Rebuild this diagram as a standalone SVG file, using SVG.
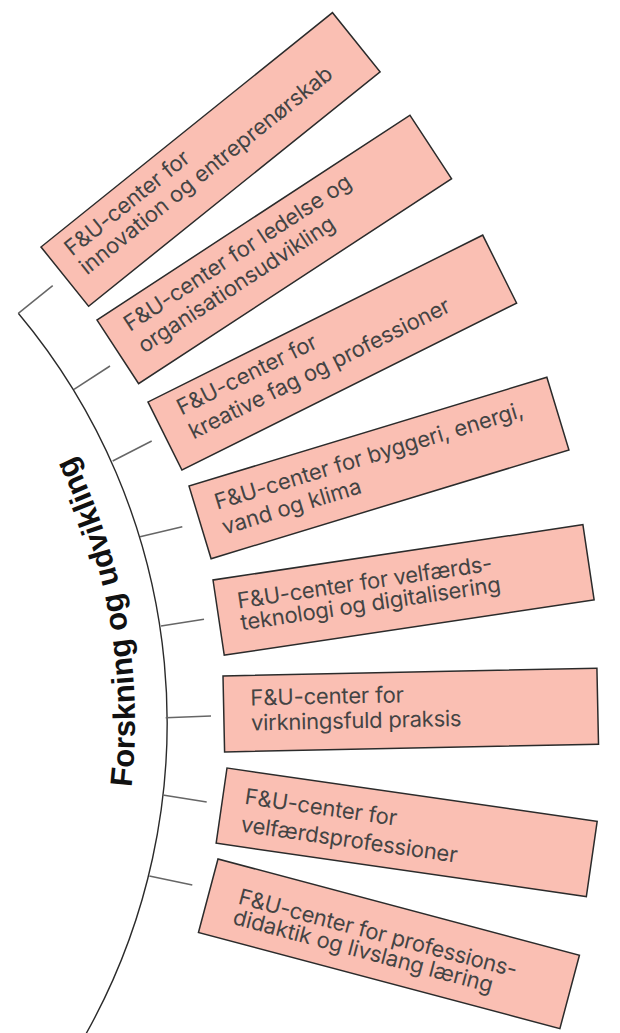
<svg xmlns="http://www.w3.org/2000/svg" width="620" height="1033" viewBox="0 0 620 1033">
<style>
.box{fill:#fabfb3;stroke:#2b2b2b;stroke-width:1.5}
.lbl{font-family:Inter,"Liberation Sans",sans-serif;font-size:22px;fill:#444}
.arc{fill:none;stroke:#2b2b2b;stroke-width:1.4}
.tick{fill:none;stroke:#666;stroke-width:1.5}
.title{font-family:"Liberation Sans",Arial,sans-serif;font-weight:bold;font-size:31px;fill:#111}
</style>
<defs>
<path id="titlePath" d="M 125.8 827.1 A 605 605 0 0 0 53.9 419.5"/>
</defs>
<g id="connectors">
<path class="arc" d="M 18.3 313.3 A 637.3 637.3 0 0 1 86.2 1033.5"/>
<line class="tick" x1="18.3" y1="313.3" x2="52.7" y2="285.7"/>
<line class="tick" x1="74" y1="389.3" x2="110" y2="366"/>
<line class="tick" x1="112.7" y1="461" x2="151.7" y2="441"/>
<line class="tick" x1="140" y1="536.7" x2="182.3" y2="526.7"/>
<line class="tick" x1="161" y1="626" x2="204" y2="619.3"/>
<line class="tick" x1="165.7" y1="717.7" x2="211" y2="716"/>
<line class="tick" x1="162.7" y1="795" x2="206.7" y2="802"/>
<line class="tick" x1="149.3" y1="876" x2="192.3" y2="885"/>
</g>
<g id="title">
<text class="title"><textPath href="#titlePath" startOffset="210.9" text-anchor="middle">Forskning og udvikling</textPath></text>
</g>
<g id="node1" transform="translate(41,247) rotate(-38.8)">
<rect class="box" width="374" height="76"/>
<text class="lbl" x="18" y="27" textLength="153.4" lengthAdjust="spacing">F&amp;U-center for</text>
<text class="lbl" x="18" y="51" textLength="317.4" lengthAdjust="spacing">innovation og entreprenørskab</text>
</g>
<g id="node2" transform="translate(97,320) rotate(-33.2)">
<rect class="box" width="374" height="76"/>
<text class="lbl" x="21" y="28" textLength="266.6" lengthAdjust="spacing">F&amp;U-center for ledelse og</text>
<text class="lbl" x="21" y="54" textLength="230.2" lengthAdjust="spacing">organisationsudvikling</text>
</g>
<g id="node3" transform="translate(148,402) rotate(-26.5)">
<rect class="box" width="374" height="76"/>
<text class="lbl" x="24" y="27" textLength="153.4" lengthAdjust="spacing">F&amp;U-center for</text>
<text class="lbl" x="24" y="54" textLength="288.7" lengthAdjust="spacing">kreative fag og professioner</text>
</g>
<g id="node4" transform="translate(189,486) rotate(-16.9)">
<rect class="box" width="374" height="76"/>
<text class="lbl" x="20" y="31" textLength="321.2" lengthAdjust="spacing">F&amp;U-center for byggeri, energi,</text>
<text class="lbl" x="20" y="57" textLength="144.4" lengthAdjust="spacing">vand og klima</text>
</g>
<g id="node5" transform="translate(213,580) rotate(-8.5)">
<rect class="box" width="374" height="76"/>
<text class="lbl" x="21" y="32" textLength="257.4" lengthAdjust="spacing">F&amp;U-center for velfærds-</text>
<text class="lbl" x="21" y="54" textLength="262.7" lengthAdjust="spacing">teknologi og digitalisering</text>
</g>
<g id="node6" transform="translate(223,676) rotate(-1.2)">
<rect class="box" width="374" height="76"/>
<text class="lbl" x="27" y="30" textLength="153.4" lengthAdjust="spacing">F&amp;U-center for</text>
<text class="lbl" x="27" y="55" textLength="210.6" lengthAdjust="spacing">virkningsfuld praksis</text>
</g>
<g id="node7" transform="translate(227,768) rotate(8.2)">
<rect class="box" width="374" height="76"/>
<text class="lbl" x="22" y="33" textLength="153.4" lengthAdjust="spacing">F&amp;U-center for</text>
<text class="lbl" x="22" y="61" textLength="218.5" lengthAdjust="spacing">velfærdsprofessioner</text>
</g>
<g id="node8" transform="translate(218,859) rotate(14.9)">
<rect class="box" width="374" height="76"/>
<text class="lbl" x="30" y="38" textLength="287.4" lengthAdjust="spacing">F&amp;U-center for professions-</text>
<text class="lbl" x="30" y="59" textLength="267.9" lengthAdjust="spacing">didaktik og livslang læring</text>
</g>
</svg>
